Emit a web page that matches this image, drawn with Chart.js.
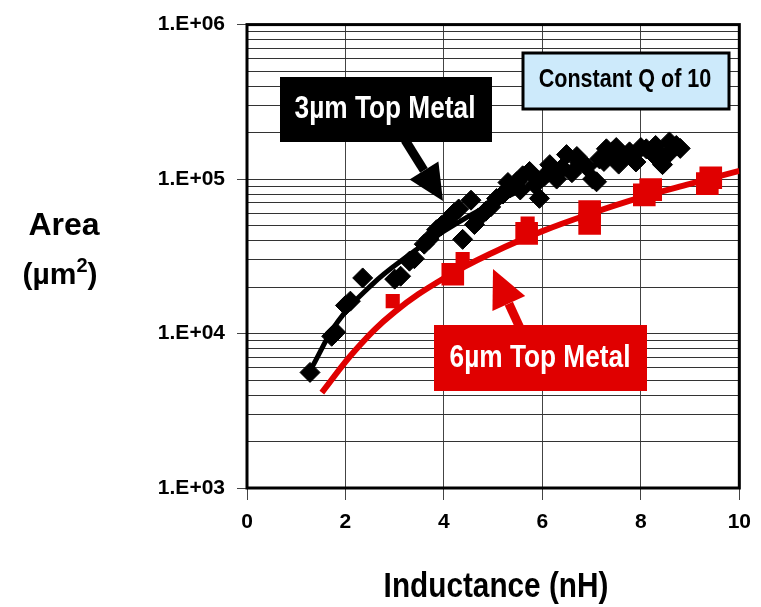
<!DOCTYPE html>
<html>
<head>
<meta charset="utf-8">
<script src="https://cdn.jsdelivr.net/npm/chart.js@4.4.1/dist/chart.umd.min.js"></script>
<style>
  html, body { margin: 0; padding: 0; background: #fff; }
  #wrap { width: 761px; height: 607px; }
</style>
</head>
<body>
<div id="wrap"><canvas id="chart" width="761" height="607"></canvas></div>
<script>
// 3um top metal: measured inductors (diamonds) and fitted trend
const blackX = [1.28, 1.72, 1.80, 2.00, 2.10, 2.35, 3.00, 3.12, 3.30, 3.40, 3.60, 3.70, 3.85, 3.95, 4.05, 4.20, 4.30, 4.38, 4.55, 4.62,
                4.70, 4.85, 4.95, 5.07, 5.20, 5.30, 5.35, 5.48, 5.55, 5.60, 5.74, 5.85, 5.94, 6.05, 6.15, 6.20, 6.29, 6.40, 6.49, 6.60,
                6.70, 6.75, 6.90, 7.02, 7.10, 7.16, 7.25, 7.30, 7.42, 7.50, 7.55, 7.65, 7.77, 7.90, 8.00, 8.11, 8.25, 8.30, 8.44, 8.44,
                8.58, 8.60, 8.72, 8.80];
const blackY = [5600, 9600, 10200, 15200, 16200, 22900, 22500, 23500, 29400, 30500, 37900, 40800, 47000, 50000, 53200, 60000, 64000, 40700, 73000, 50800,
                56000, 62000, 66000, 74800, 80000, 95000, 88000, 96000, 85000, 105000, 112000, 92000, 75000, 105000, 124000, 110000, 100000, 118000, 144000, 110000,
                140000, 129000, 120000, 100000, 96000, 135000, 130000, 157000, 150000, 160000, 125000, 140000, 150000, 129000, 160000, 157000, 145000, 165000, 135000, 124000,
                174000, 150000, 165000, 158000];
const blackFitX = [1.3, 1.85, 2.55, 3.2, 4.0, 5.0, 6.0, 7.0, 8.0, 8.75];
const blackFitY = [5900, 12000, 20900, 30700, 46000, 70000, 96000, 122000, 145000, 160000];

// 6um top metal: measured inductors (squares) and fitted trend
const redX = [4.18, 5.68, 6.96, 6.96, 8.07, 8.20, 9.35, 9.42];
const redY = [24200, 44500, 51600, 61700, 79000, 85500, 93500, 102000];
const redSmallX = [2.96, 4.38, 5.70];
const redSmallY = [16200, 30300, 51600];
const redFitX = [1.52, 2.2, 3.0, 4.0, 5.0, 6.0, 7.0, 8.0, 9.0, 10.0];
const redFitY = [4150, 7800, 13800, 22800, 33500, 46000, 60000, 76000, 93000, 113000];

const xTicks = [0, 2, 4, 6, 8, 10];
const yMajor = [1e3, 1e4, 1e5, 1e6];
const yTickLabels = ['1.E+03', '1.E+04', '1.E+05', '1.E+06'];

const pts = (xs, ys) => xs.map((x, i) => ({ x: x, y: ys[i] }));

// every 1..9 x 10^n line of the log grid
const yGrid = [];
yMajor.slice(0, -1).forEach(d => { for (let k = 1; k < 10; k++) yGrid.push(d * k); });
yGrid.push(1e6);

function squeezedText(ctx, txt, cx, base, font, sx, color) {
  ctx.save();
  ctx.font = font;
  ctx.fillStyle = color;
  ctx.textAlign = 'center';
  ctx.textBaseline = 'alphabetic';
  ctx.translate(cx, base);
  ctx.scale(sx, 1);
  ctx.fillText(txt, 0, 0);
  ctx.restore();
}

function arrow(ctx, x0, y0, x1, y1, headLen, headW, shaftW, color) {
  const a = Math.atan2(y1 - y0, x1 - x0);
  const bx = x1 - Math.cos(a) * headLen, by = y1 - Math.sin(a) * headLen;
  ctx.save();
  ctx.strokeStyle = color; ctx.fillStyle = color;
  ctx.lineWidth = shaftW;
  ctx.beginPath(); ctx.moveTo(x0, y0); ctx.lineTo(bx, by); ctx.stroke();
  ctx.beginPath();
  ctx.moveTo(x1, y1);
  ctx.lineTo(bx + Math.sin(a) * headW / 2, by - Math.cos(a) * headW / 2);
  ctx.lineTo(bx - Math.sin(a) * headW / 2, by + Math.cos(a) * headW / 2);
  ctx.closePath(); ctx.fill();
  ctx.restore();
}

const frame = {
  id: 'frame',
  beforeDatasetsDraw(chart) {
    const { ctx, chartArea: a } = chart;
    ctx.save();
    ctx.strokeStyle = '#000';
    ctx.lineWidth = 3;
    ctx.strokeRect(a.left, a.top, a.right - a.left, a.bottom - a.top);
    ctx.restore();
  },
  afterDraw(chart) {
    const ctx = chart.ctx;
    const F = "'Liberation Sans', Arial, sans-serif";

    // axis titles
    squeezedText(ctx, 'Inductance (nH)', 496, 597, 'bold 35px ' + F, 0.85, '#000');
    squeezedText(ctx, 'Area', 64, 235, 'bold 32px ' + F, 1.0, '#000');
    ctx.save();
    ctx.fillStyle = '#000';
    ctx.textBaseline = 'alphabetic';
    ctx.textAlign = 'left';
    ctx.font = 'bold 30px ' + F;
    const w1 = ctx.measureText('(µm').width;
    ctx.font = 'bold 20px ' + F;
    const w2 = ctx.measureText('2').width;
    ctx.font = 'bold 30px ' + F;
    const w3 = ctx.measureText(')').width;
    let x = 60 - (w1 + w2 + w3) / 2;
    ctx.fillText('(µm', x, 284); x += w1;
    ctx.font = 'bold 20px ' + F;
    ctx.fillText('2', x, 272); x += w2;
    ctx.font = 'bold 30px ' + F;
    ctx.fillText(')', x, 284);
    ctx.restore();

    // Constant Q box
    ctx.save();
    ctx.fillStyle = '#cdeafb';
    ctx.fillRect(523, 53, 206, 56);
    ctx.strokeStyle = '#000'; ctx.lineWidth = 3;
    ctx.strokeRect(523, 53, 206, 56);
    ctx.restore();
    squeezedText(ctx, 'Constant Q of 10', 625, 87, 'bold 26px ' + F, 0.83, '#000');

    // 3um label and arrow
    arrow(ctx, 405, 140, 443, 201, 36, 34, 9, '#000');
    ctx.fillStyle = '#000';
    ctx.fillRect(280, 77, 212, 65);
    squeezedText(ctx, '3µm Top Metal', 385, 118, 'bold 32px ' + F, 0.82, '#fff');

    // 6um label and arrow
    arrow(ctx, 520, 328, 493, 269, 38, 36, 9, '#e00000');
    ctx.fillStyle = '#e00000';
    ctx.fillRect(434, 325, 213, 66);
    squeezedText(ctx, '6µm Top Metal', 540, 367, 'bold 32px ' + F, 0.82, '#fff');
  }
};

const tickFont = { family: "'Liberation Sans', Arial, sans-serif", size: 21, weight: 'bold' };

new Chart(document.getElementById('chart'), {
  type: 'scatter',
  data: {
    datasets: [
      {
        label: '3um data',
        data: pts(blackX, blackY),
        pointStyle: 'rectRot',
        pointRadius: 10,
        backgroundColor: '#000',
        borderColor: '#000',
        borderWidth: 1,
        order: 0
      },
      {
        label: '3um fit',
        data: pts(blackFitX, blackFitY),
        showLine: true,
        pointRadius: 0,
        borderColor: '#000',
        borderWidth: 5,
        tension: 0.4,
        order: 1
      },
      {
        label: '6um fit',
        data: pts(redFitX, redFitY),
        showLine: true,
        pointRadius: 0,
        borderColor: '#e00000',
        borderWidth: 6,
        tension: 0.4,
        order: 2
      },
      {
        label: '6um data',
        data: pts(redX, redY),
        pointStyle: 'rect',
        pointRadius: 16,
        backgroundColor: '#e00000',
        borderColor: '#e00000',
        borderWidth: 0,
        order: 3
      },
      {
        label: '6um data (small)',
        data: pts(redSmallX, redSmallY),
        pointStyle: 'rect',
        pointRadius: 10,
        backgroundColor: '#e00000',
        borderColor: '#e00000',
        borderWidth: 0,
        order: 3
      }
    ]
  },
  options: {
    responsive: false,
    animation: false,
    layout: { padding: { left: 0, top: 22, right: 21, bottom: 0 } },
    plugins: { legend: { display: false }, tooltip: { enabled: false } },
    scales: {
      x: {
        type: 'linear',
        min: 0,
        max: 10,
        afterFit: s => { s.height = 119; },
        afterBuildTicks: s => { s.ticks = xTicks.map(v => ({ value: v })); },
        ticks: { color: '#000', font: tickFont, padding: 10, autoSkip: false },
        grid: { color: '#444', lineWidth: 1, tickLength: 12, tickColor: '#444' },
        border: { display: false }
      },
      y: {
        type: 'logarithmic',
        min: 1000,
        max: 1e6,
        afterFit: s => { s.width = 247; },
        afterBuildTicks: s => { s.ticks = yGrid.map(v => ({ value: v })); },
        ticks: {
          color: '#000',
          font: tickFont,
          padding: 12,
          autoSkip: false,
          callback: v => {
            const i = yMajor.indexOf(v);
            return i >= 0 ? yTickLabels[i] : '';
          }
        },
        grid: {
          color: '#333',
          lineWidth: 1,
          tickLength: 10,
          tickColor: c => (yMajor.includes(c.tick.value) ? '#444' : 'rgba(0,0,0,0)')
        },
        border: { display: false }
      }
    }
  },
  plugins: [frame]
});
</script>
</body>
</html>
